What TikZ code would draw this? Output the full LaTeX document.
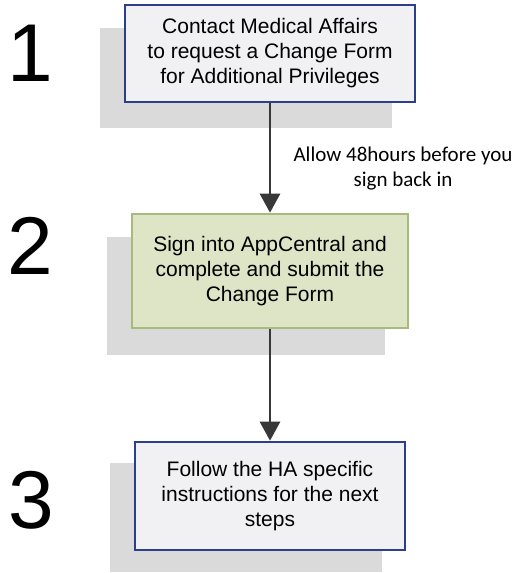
\documentclass[tikz,border=0pt]{standalone}
\usepackage{fontspec}
\usetikzlibrary{arrows.meta}
\setmainfont{Liberation Sans}
\newfontfamily\labelfont{Carlito}
\definecolor{bxblue}{HTML}{2E3F8A}
\definecolor{bxfill}{HTML}{F1F1F4}
\definecolor{grnfill}{HTML}{DEE5C6}
\definecolor{grnline}{HTML}{A6BA7C}
\definecolor{shadowgray}{HTML}{DADADA}
\definecolor{arrowgray}{HTML}{383838}
\begin{document}
\begin{tikzpicture}[x=1pt,y=-1pt,
  shadowbox/.style={fill=shadowgray,draw=none},
  stepbox/.style={draw=bxblue,line width=2.6pt,fill=bxfill,align=center,
    font=\fontsize{21}{25}\selectfont,inner sep=0pt},
  greenbox/.style={draw=grnline,line width=2.6pt,fill=grnfill,align=center,
    font=\fontsize{21}{25}\selectfont,inner sep=0pt},
  bignum/.style={font=\fontsize{82}{82}\selectfont},
  flow/.style={draw=arrowgray,line width=2.6pt,-{Triangle[length=19pt,width=20pt]}}]
\useasboundingbox (0,0) rectangle (517,573);
% shadows
\fill[shadowbox] (100,28) rectangle (392,128);
\fill[shadowbox] (107,237) rectangle (385,355);
\fill[shadowbox] (110,463) rectangle (382,572);
% boxes
\node[stepbox,minimum width=290pt,minimum height=97pt] (b1) at (270,53.5)
  {Contact Medical Affairs\\to request a Change Form\\for Additional Privileges};
\node[greenbox,minimum width=276pt,minimum height=114pt] (b2) at (270,271)
  {Sign into AppCentral and\\complete and submit the\\Change Form};
\node[stepbox,minimum width=270pt,minimum height=108pt] (b3) at (270,496)
  {Follow the HA specific\\instructions for the next\\steps};
% numbers
\node[bignum] (n1) at (30,53) {1};
\node[bignum] (n2) at (30,246) {2};
\node[bignum] (n3) at (31,500) {3};
% arrows
\draw[flow] (b1.south) -- (b2.north);
\draw[flow] (b2.south) -- (b3.north);
\node[align=center,font=\labelfont\fontsize{21}{25}\selectfont] (lbl) at (403,169)
  {Allow 48hours before you\\sign back in};
\end{tikzpicture}
\end{document}
